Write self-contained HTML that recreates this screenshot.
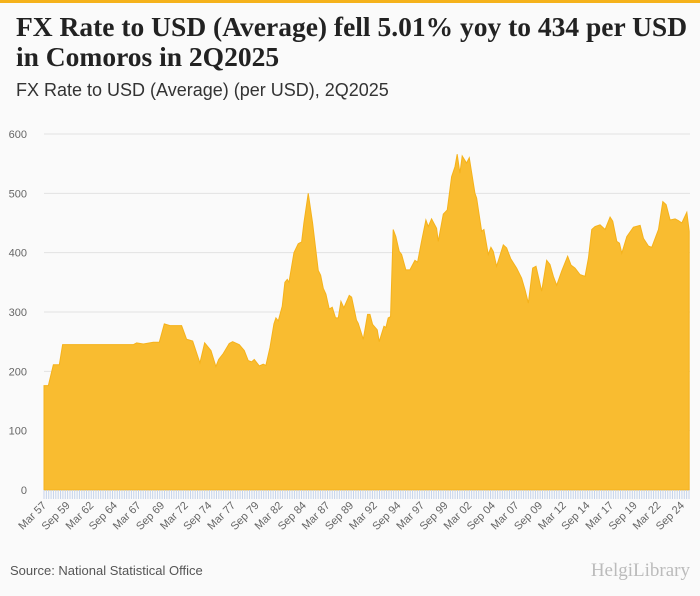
<!DOCTYPE html>
<html><head><meta charset="utf-8">
<style>
body{margin:0;background:#fafafa;}
#wrap{position:relative;width:700px;height:596px;background:#fafafa;overflow:hidden;font-family:"Liberation Sans",sans-serif;}
#topline{position:absolute;left:0;top:0;width:700px;height:3px;background:#f5b21b;}
#title{position:absolute;left:16px;top:12px;font-family:"Liberation Serif",serif;font-weight:bold;font-size:27.5px;line-height:30px;color:#222;white-space:nowrap;}
#subtitle{position:absolute;left:16px;top:80px;font-size:18px;color:#333;white-space:nowrap;}
#source{position:absolute;left:10px;top:563px;font-size:13px;color:#555;}
#logo{position:absolute;right:10px;top:560px;font-family:"Liberation Serif",serif;font-size:19px;color:#bbb;}
svg{position:absolute;left:0;top:0;}
</style></head><body>
<div id="wrap">
<div id="topline"></div>
<div id="title">FX Rate to USD (Average) fell 5.01% yoy to 434 per USD<br>in Comoros in 2Q2025</div>
<div id="subtitle">FX Rate to USD (Average) (per USD), 2Q2025</div>
<svg id="chart" width="700" height="596"></svg>
<div id="source">Source: National Statistical Office</div>
<div id="logo">HelgiLibrary</div>
</div>
<script>
const dates=[1957.0,1957.46,1957.99,1958.62,1958.97,1966.45,1966.8,1967.51,1968.57,1969.2,1969.73,1970.33,1971.56,1972.09,1972.73,1973.5,1974.0,1974.67,1975.19,1975.48,1975.97,1976.6,1976.96,1977.66,1978.19,1978.61,1978.97,1979.25,1979.78,1980.2,1980.48,1980.91,1981.33,1981.54,1981.79,1982.21,1982.49,1982.74,1982.92,1983.45,1983.9,1984.26,1984.5,1984.96,1985.42,1986.02,1986.27,1986.55,1986.83,1987.18,1987.5,1987.85,1988.14,1988.42,1988.73,1989.3,1989.55,1990.07,1990.25,1990.78,1991.24,1991.49,1991.77,1992.26,1992.47,1992.97,1993.18,1993.42,1993.67,1993.95,1994.23,1994.59,1994.84,1995.29,1995.72,1996.25,1996.53,1996.95,1997.41,1997.66,1998.01,1998.54,1998.72,1999.25,1999.67,2000.13,2000.49,2000.72,2001.01,2001.25,2001.71,2002.0,2002.6,2002.78,2003.31,2003.55,2004.01,2004.29,2004.54,2004.89,2005.6,2005.95,2006.38,2007.01,2007.54,2007.89,2008.25,2008.71,2009.06,2009.66,2010.19,2010.54,2010.9,2011.25,2011.78,2012.41,2012.77,2013.19,2013.72,2014.25,2014.61,2014.96,2015.31,2015.84,2016.37,2016.9,2017.18,2017.61,2017.89,2018.14,2018.67,2019.37,2020.08,2020.43,2020.96,2021.31,2022.02,2022.48,2022.83,2023.25,2023.78,2024.14,2024.49,2025.02,2025.27];
const values=[176,176,211,211,245,245,248,246,249,249,280,277,277,254,251,214,248,235,208,220,230,247,250,245,235,218,216,220,209,212,210,240,280,290,285,310,350,355,350,400,415,418,450,500,450,370,362,340,330,305,308,290,290,318,307,328,325,286,281,254,296,296,279,270,250,276,274,290,292,439,427,402,397,371,371,387,384,419,455,444,457,441,419,465,472,528,545,566,534,563,551,560,500,492,436,439,397,409,402,377,413,408,390,374,357,338,315,374,377,335,387,380,360,345,369,394,379,374,363,360,391,439,444,447,439,460,453,419,416,399,427,443,446,424,411,409,439,486,481,455,457,454,450,468,436];
const yTicks=[0,100,200,300,400,500,600];
const xTickLabels=["Mar 57","Sep 59","Mar 62","Sep 64","Mar 67","Sep 69","Mar 72","Sep 74","Mar 77","Sep 79","Mar 82","Sep 84","Mar 87","Sep 89","Mar 92","Sep 94","Mar 97","Sep 99","Mar 02","Sep 04","Mar 07","Sep 09","Mar 12","Sep 14","Mar 17","Sep 19","Mar 22","Sep 24"];
const svg=document.getElementById('chart');
const NS='http://www.w3.org/2000/svg';
const X0=44,X1=689,Y0=490,Y1=134;
const T0=1957.0,T1=2025.25;
function xs(t){return X0+(t-T0)/(T1-T0)*(X1-X0);}
function ys(v){return Y0-(v/600)*(Y0-Y1);}
function mk(tag,attrs){const e=document.createElementNS(NS,tag);for(const k in attrs)e.setAttribute(k,attrs[k]);svg.appendChild(e);return e;}
yTicks.forEach(v=>{
  const g=mk('line',{x1:X0,x2:690,y1:ys(v),y2:ys(v),stroke:'#e2e2e2','stroke-width':1});
  
  
  const t=mk('text',{x:27,y:ys(v)+4,'text-anchor':'end','font-size':11,fill:'#666','font-family':'Liberation Sans, sans-serif'});
  t.textContent=v;
  
  
});
let d='M'+xs(dates[0])+','+ys(0);
dates.forEach((t,i)=>{d+=' L'+xs(t).toFixed(2)+','+ys(values[i]).toFixed(2);});
d+=' L'+xs(dates[dates.length-1])+','+ys(0)+' Z';
const area=mk('path',{d:d,fill:'#f9bc30',stroke:'#f5b21b','stroke-width':1});


const nQ=Math.round((T1-T0)*4);
for(let q=0;q<=nQ;q++){
  const x=xs(T0+q/4);
  const tk=mk('line',{x1:x,x2:x,y1:Y0,y2:Y0+9,stroke:'#c5d3ea','stroke-width':1});
  
  
}
xTickLabels.forEach((lab,i)=>{
  const x=xs(T0+i*10/4);
  const t=mk('text',{x:x+3,y:Y0+16,'text-anchor':'end','font-size':11,fill:'#666','font-family':'Liberation Sans, sans-serif',transform:'rotate(-45 '+(x+3)+' '+(Y0+16)+')'});
  t.textContent=lab;
  
  
});
</script>
</body></html>
